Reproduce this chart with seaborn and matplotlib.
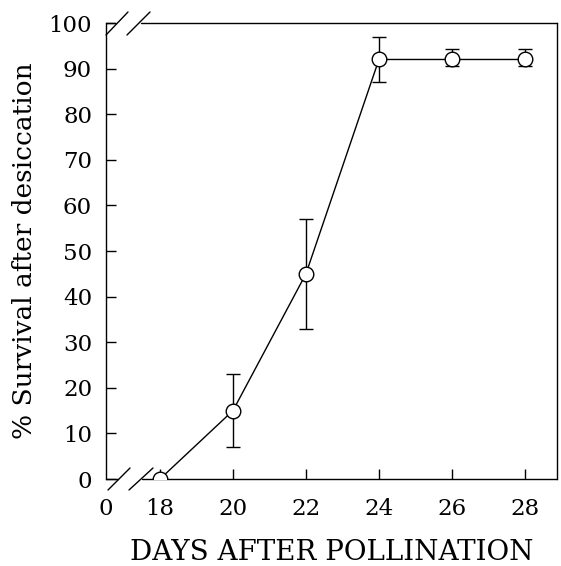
import matplotlib
matplotlib.use("Agg")
import matplotlib.pyplot as plt
import seaborn as sns
import numpy as np
import pandas as pd

# ---- data ----
days = [18, 20, 22, 24, 26, 28]
survival = [0, 15, 45, 92, 92, 92]
err_low = [0, 7, 33, 87, 90.5, 90.5]
err_high = [0, 23, 57, 97, 94.2, 94.2]
x_tick_labels = ["0", "18", "20", "22", "24", "26", "28"]
y_ticks = [0, 10, 20, 30, 40, 50, 60, 70, 80, 90, 100]

sns.set_theme(style="ticks")
plt.rcParams['font.family'] = ['DejaVu Serif']

df = pd.DataFrame({"days": days, "survival": survival})

fig = plt.figure(figsize=(5.61, 5.66), dpi=100)
ax = fig.add_axes([106 / 561, 87 / 566, 451 / 561, 456 / 566])

x_left, x_right = 16.52, 28.88

yerr = np.array([np.array(survival) - np.array(err_low),
                 np.array(err_high) - np.array(survival)])
ax.errorbar(days, survival, yerr=yerr, fmt='none', ecolor='black',
            elinewidth=1.0, capsize=5, capthick=1.0, zorder=2)
sns.lineplot(data=df, x="days", y="survival", ax=ax, color="black",
             linewidth=1.0, marker="o", markersize=10.5,
             markerfacecolor="white", markeredgecolor="black",
             markeredgewidth=1.0, zorder=3)

ax.set_xlim(x_left, x_right)
ax.set_ylim(0, 100)
ax.set_xticks([x_left] + days[:])
ax.set_xticklabels(x_tick_labels)
ax.set_yticks(y_ticks)
ax.set_yticklabels([str(v) for v in y_ticks])

ax.tick_params(axis='both', direction='in', length=7, width=1.0,
               colors='black', labelsize=16.5)
ax.tick_params(axis='x', pad=14)
ax.tick_params(axis='y', pad=10)
ax.xaxis.get_major_ticks()[0].tick1line.set_visible(False)

ax.set_xlabel("DAYS AFTER POLLINATION", fontsize=20, labelpad=13, color='black')
ax.set_ylabel("% Survival after desiccation", fontsize=19, color='black')
ax.yaxis.set_label_coords(-0.152, 0.5)

for s in ax.spines.values():
    s.set_linewidth(1.0)
    s.set_color('black')

# broken axis: top and bottom spines with gaps
ax.spines['top'].set_visible(False)
ax.spines['bottom'].set_visible(False)
W = 451.0
H = 456.0
kw = dict(transform=ax.transAxes, color='black', linewidth=1.0, clip_on=False)
# top spine pieces
ax.plot([0, 9 / W], [1, 1], **kw)
ax.plot([35 / W, 1], [1, 1], **kw)
# bottom spine pieces
ax.plot([0, 12 / W], [0, 0], **kw)
ax.plot([36 / W, 1], [0, 0], **kw)
# slashes top
ax.plot([0 / W, 22 / W], [-12 / H + 1, 11 / H + 1], **kw)
ax.plot([21 / W, 44 / W], [-12 / H + 1, 11 / H + 1], **kw)
# slashes bottom
ax.plot([2 / W, 24 / W], [-11 / H, 11 / H], **kw)
ax.plot([23 / W, 47 / W], [-11 / H, 11 / H], **kw)

ax.set_facecolor('white')
fig.patch.set_facecolor('white')
fig.savefig("out.png", dpi=100, facecolor='white')
